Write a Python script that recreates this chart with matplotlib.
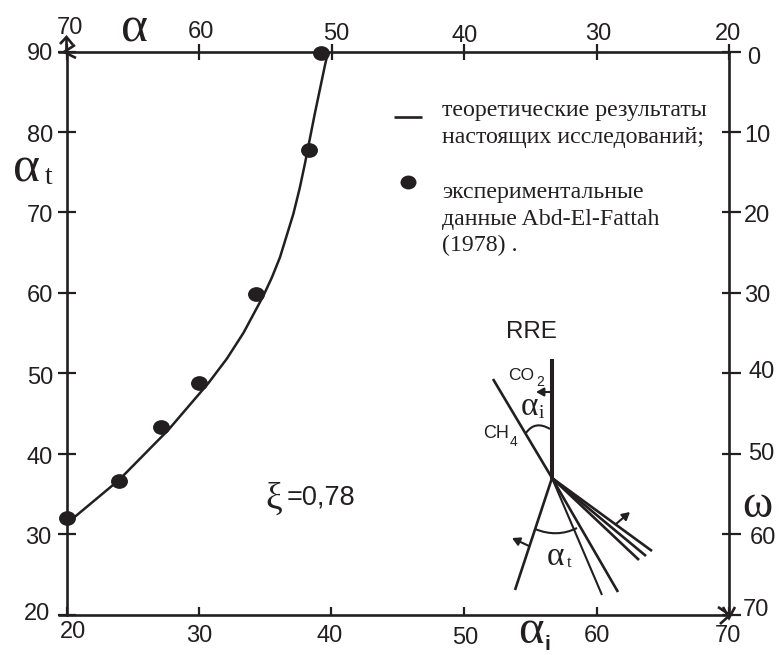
import matplotlib
matplotlib.use("Agg")
import matplotlib.pyplot as plt
from matplotlib.path import Path
from matplotlib.patches import PathPatch
from matplotlib.ticker import FixedLocator
from matplotlib.transforms import Affine2D

W, H = 779, 655
INK = "#231f20"
SANS = "Liberation Sans"
SERIF = "Liberation Serif"

# data
curve_alpha_i = [20.0, 20.64, 23.96, 27.68, 30.70, 32.1, 33.35, 34.85, 35.5, 36.11, 37.12, 37.6, 38.0, 38.75, 39.51, 39.74]
curve_alpha_t = [31.6, 32.16, 36.72, 42.94, 48.75, 51.8, 55.0, 59.6, 61.9, 64.4, 69.8, 73.0, 76.1, 82.35, 88.32, 89.94]
exp_alpha_i = [20.0, 23.96, 27.13, 30.0, 34.3, 38.32, 39.2]
exp_alpha_t = [32.0, 36.6, 43.28, 48.75, 59.85, 77.75, 89.8]

bottom_ticks = [20, 30, 40, 50, 60, 70]
left_ticks = [20, 30, 40, 50, 60, 70, 80, 90]
top_ticks = [70, 60, 50, 40, 30, 20]
right_ticks = [0, 10, 20, 30, 40, 50, 60, 70]

bottom_label_px = [(73, 629), (199, 634), (330, 634), (465, 635), (597, 634), (728, 633)]
left_label_px = [(37, 611), (38, 535), (40, 455), (40, 375), (40, 294), (40, 214), (40, 133), (40, 52)]
top_label_px = [(70, 26), (201, 29), (336, 32), (465, 33), (598, 32), (728, 31)]
right_label_px = [(754, 55), (757, 133), (757, 214), (757, 294), (762, 370), (761, 452), (763, 536), (756, 608)]

legend_lines = [("теоретические результаты", 108), ("настоящих исследований;", 135),
                ("экспериментальные", 190), ("данные Abd-El-Fattah", 217), ("(1978) .", 243)]

plt.rcParams["font.family"] = [SANS, "DejaVu Sans"]
fig = plt.figure(figsize=(W / 100, H / 100), dpi=100, facecolor="white")

L, R, T, B = 66.5, 729.0, 51.5, 614.5
ax = fig.add_axes([L / W, 1 - B / H, (R - L) / W, (B - T) / H])
ax.set_xlim(20, 70)
ax.set_ylim(20, 90)
for s in ax.spines.values():
    s.set_linewidth(1.9)
    s.set_color(INK)
ax.set_xticks(bottom_ticks)
ax.set_yticks(left_ticks)
ax.set_xticklabels([])
ax.set_yticklabels([])
ax.tick_params(axis="x", direction="in", length=6, width=1.6, color=INK)
ax.tick_params(axis="y", direction="inout", length=13.5, width=1.6, color=INK)

axt = ax.twiny()
axt.set_xlim(70, 20)
axt.set_xticks(top_ticks)
axt.set_xticklabels([])
axt.tick_params(axis="x", direction="inout", length=12, width=1.6, color=INK)

axr = ax.twinx()
axr.set_ylim(70, 0)
axr.set_yticks(right_ticks)
axr.set_yticklabels([])
axr.yaxis.remove_overlapping_locs = False
axr.yaxis.set_minor_locator(FixedLocator(right_ticks))
axr.tick_params(axis="y", which="major", direction="out", length=8.3, width=1.6, color=INK)
axr.tick_params(axis="y", which="minor", direction="in", length=4.7, width=1.6, color=INK)
for a in (axt, axr):
    for s in a.spines.values():
        s.set_visible(False)

ax.plot(curve_alpha_i, curve_alpha_t, color=INK, lw=1.8, clip_on=False, zorder=3)
blob = Path.unit_circle().transformed(Affine2D().scale(1.15, 1.0))
ax.plot(exp_alpha_i, exp_alpha_t, ls="none", marker=blob, ms=12.2, color=INK, mew=0,
        clip_on=False, zorder=4)

# overlay in image pixels for annotations
ov = fig.add_axes([0, 0, 1, 1], facecolor="none")
ov.set_xlim(0, W)
ov.set_ylim(H, 0)
ov.axis("off")


def txt(x, y, s, size=17, family=SANS, **kw):
    ov.text(x, y, s, fontsize=size, family=family, color=kw.pop("color", INK),
            ha=kw.pop("ha", "center"), va=kw.pop("va", "center_baseline"), **kw)


def seg(pts, lw=1.7, color=INK):
    ov.plot([p[0] for p in pts], [p[1] for p in pts], color=color, lw=lw,
            solid_capstyle="butt", solid_joinstyle="miter")


for labels, pos in ((bottom_ticks, bottom_label_px), (left_ticks, left_label_px),
                    (top_ticks, top_label_px), (right_ticks, right_label_px)):
    for v, (x, y) in zip(labels, pos):
        txt(x, y, str(v))

# axis arrowheads and overhangs
seg([(66.5, 52), (66.5, 37)], 1.9)
seg([(60, 44), (66.5, 37), (73, 45)], 1.9)
seg([(75, 45), (64, 52), (76, 58)], 1.9)
seg([(58, 51.5), (66, 51.5)], 1.9)
seg([(58, 614.5), (66, 614.5)], 1.9)
seg([(718, 607), (730, 615), (720, 624)], 1.9)
seg([(735, 607), (729, 618), (723, 607)], 1.9)

# axis titles
txt(135, 24, "α", 37, SERIF)
txt(27, 164, "α", 37, SERIF)
txt(49, 175, "t", 20, SERIF)
txt(531, 626, "α", 35, SERIF)
txt(547, 643, "i", 15, SANS, fontweight="bold")
txt(757, 501, "ω", 33, SERIF)

# note and legend
txt(274, 495, "ξ", 27, SERIF)
txt(321, 495, "=0,78", 19.5)
seg([(394, 117), (422, 117)], 1.9)
ov.plot([408], [181.5], ls="none", marker=blob, ms=11.5, color=INK, mew=0)
for s, y in legend_lines:
    txt(442, y, s, 17.2, SERIF, ha="left")

# inset diagram
centre = (552, 478)
thin_rays = [(602, 595)]
mid_rays = [(493, 379), (618, 592), (639, 560), (646, 556), (652, 551), (515, 590)]
seg([(552, 359), (552, 479)], 2.9)
for p in mid_rays:
    seg([centre, p], 1.9)
for p in thin_rays:
    seg([centre, p], 1.5)
for a, c, b in (((526, 433), (535, 420), (550, 429)), ((535, 529), (557, 538), (577, 528))):
    ov.add_patch(PathPatch(Path([a, c, b], [Path.MOVETO, Path.CURVE3, Path.CURVE3]),
                           fc="none", ec=INK, lw=1.5))
for tail, tip in (((552, 392), (536, 392)), ((529, 546), (512, 538)), ((616, 524), (630, 512))):
    ov.annotate("", xy=tip, xytext=tail,
                arrowprops=dict(arrowstyle="-|>,head_length=0.45,head_width=0.25",
                                color=INK, lw=1.5, shrinkA=0, shrinkB=0))
txt(531, 330, "RRE", 17.4)
txt(521, 374, "CO", 12.5)
txt(540, 381, "2", 10)
txt(530, 403, "α", 24, SERIF)
txt(541, 412, "i", 14, SERIF)
txt(496, 431, "CH", 13)
txt(514, 440, "4", 10)
txt(556, 553, "α", 24, SERIF)
txt(569, 561, "t", 12, SERIF)

fig.savefig("out.png", dpi=100, facecolor="white")
